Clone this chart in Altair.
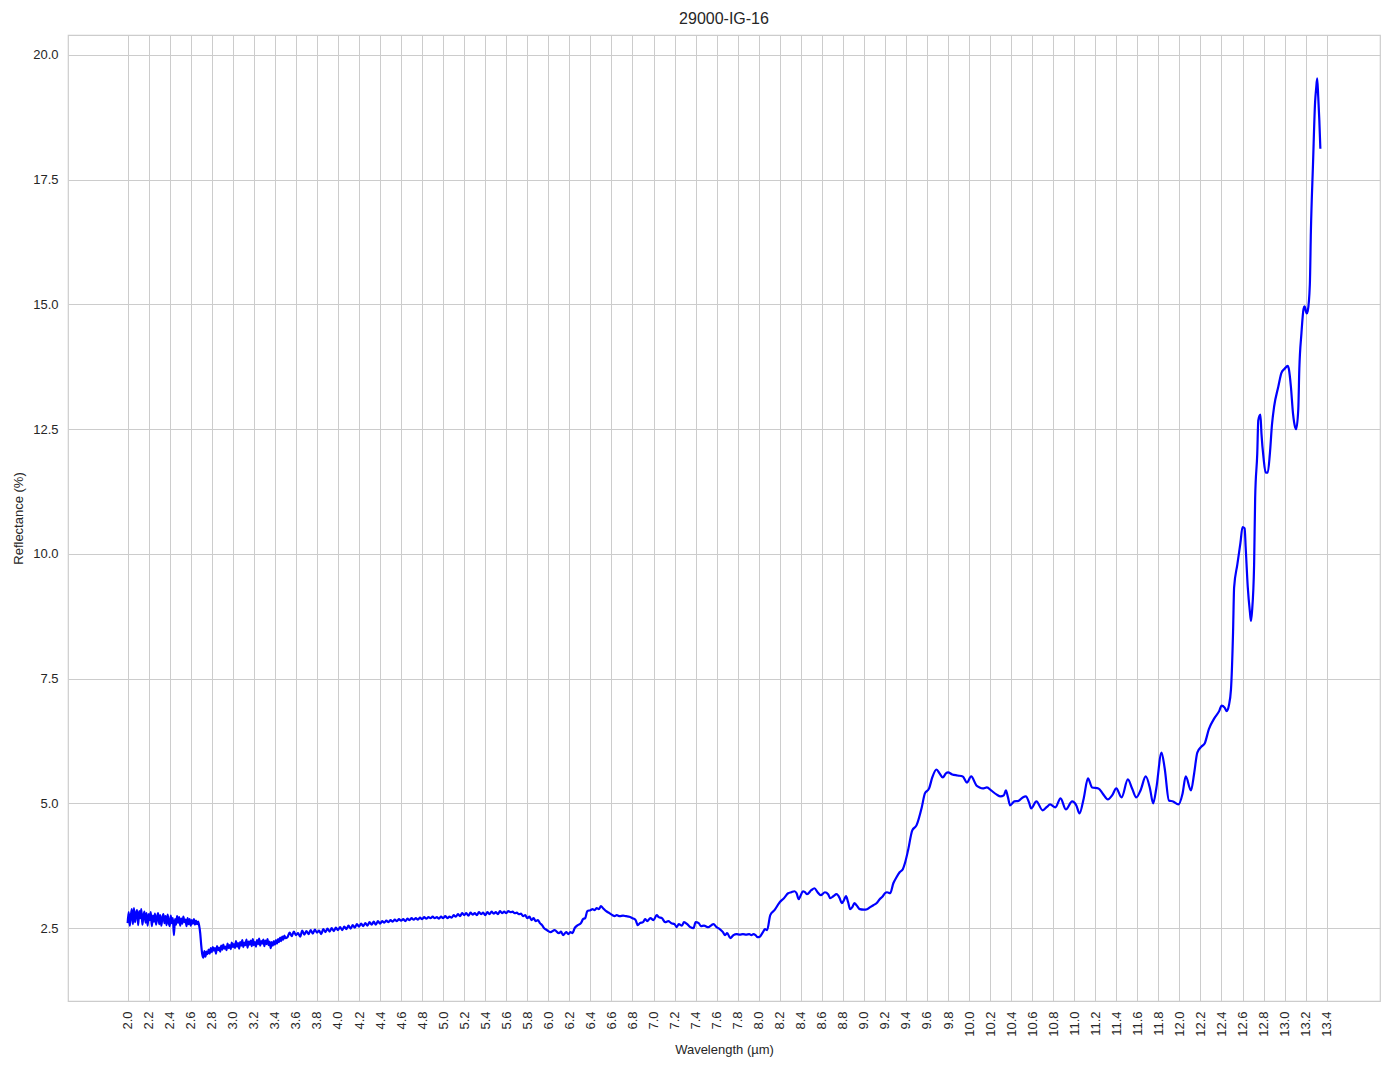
import altair as alt
import pandas as pd

TITLE = "29000-IG-16"
X_TITLE = "Wavelength (µm)"
Y_TITLE = "Reflectance (%)"

# 2.00 - 2.79 um, sampled every 0.01 um (noisy detector region)
noisy_start = 2.00
noisy_step = 0.01
noisy_vals = [
    2.60, 2.82, 2.55, 2.74, 2.88, 2.58, 2.90, 2.62, 2.79, 2.86,
    2.56, 2.84, 2.70, 2.88, 2.57, 2.74, 2.83, 2.61, 2.80, 2.55,
    2.78, 2.66, 2.82, 2.54, 2.75, 2.63, 2.79, 2.57, 2.72, 2.80,
    2.58, 2.76, 2.55, 2.70, 2.78, 2.60, 2.74, 2.56, 2.77, 2.62,
    2.54, 2.75, 2.60, 2.70, 2.36, 2.68, 2.57, 2.74, 2.61, 2.72,
    2.55, 2.69, 2.59, 2.73, 2.62, 2.67, 2.54, 2.70, 2.58, 2.68,
    2.55, 2.66, 2.59, 2.68, 2.57, 2.65, 2.58, 2.63, 2.55, 2.40,
    2.15, 1.97, 1.91, 2.04, 1.93, 2.03, 1.98, 2.07, 1.99, 2.10,
]

# 2.80 - 3.50 um, every 0.01 um
band_start = 2.80
band_step = 0.01
band_vals = [
    2.02, 2.12, 2.05, 2.10, 1.99, 2.14, 2.06, 2.11, 2.03, 2.15,
    2.07, 2.17, 2.09, 2.13, 2.06, 2.19, 2.10, 2.16, 2.08, 2.21,
    2.12, 2.18, 2.10, 2.24, 2.13, 2.20, 2.09, 2.22, 2.15, 2.26,
    2.12, 2.21, 2.16, 2.27, 2.11, 2.23, 2.17, 2.25, 2.14, 2.28,
    2.16, 2.22, 2.13, 2.26, 2.18, 2.29, 2.15, 2.24, 2.19, 2.27,
    2.14, 2.25, 2.18, 2.28, 2.16, 2.23, 2.10, 2.22, 2.15, 2.24,
    2.17, 2.26, 2.19, 2.28, 2.22, 2.31, 2.24, 2.33, 2.27, 2.35,
    2.30,
]

# 3.52 - 6.00 um, every 0.02 um
plateau_start = 3.52
plateau_step = 0.02
plateau_vals = [
    2.32, 2.41, 2.34, 2.43, 2.36, 2.40, 2.33, 2.45, 2.37, 2.44,
    2.38, 2.46, 2.39, 2.47, 2.41, 2.45, 2.38, 2.48, 2.42, 2.49,
    2.43, 2.50, 2.44, 2.51, 2.46,
    2.52, 2.46, 2.53, 2.48, 2.55, 2.49, 2.56, 2.51, 2.58, 2.53,
    2.59, 2.54, 2.60, 2.55, 2.62, 2.57, 2.63, 2.57, 2.64, 2.59,
    2.64, 2.61, 2.65, 2.62, 2.66, 2.63, 2.67, 2.64, 2.68, 2.65,
    2.68, 2.64, 2.69, 2.66, 2.70, 2.67, 2.70, 2.67, 2.71, 2.68,
    2.72, 2.69, 2.72, 2.70, 2.73, 2.70, 2.72, 2.69, 2.73, 2.70,
    2.74, 2.70, 2.73, 2.71, 2.76, 2.73, 2.78, 2.74, 2.80, 2.76,
    2.80, 2.75, 2.81, 2.77, 2.80, 2.76, 2.82, 2.78, 2.81, 2.76,
    2.82, 2.78, 2.83, 2.79, 2.82, 2.78, 2.84, 2.80, 2.83, 2.80,
    2.84, 2.82, 2.83, 2.80, 2.81, 2.78, 2.79, 2.74, 2.76, 2.70,
    2.73, 2.66, 2.70, 2.64, 2.66, 2.60, 2.56, 2.50, 2.47, 2.44,
]

# 6.02 - 9.40 um
mid_x = [
    6.02, 6.06, 6.10, 6.12, 6.14, 6.17, 6.19, 6.21, 6.23, 6.25,
    6.28, 6.31, 6.33, 6.35, 6.37, 6.40, 6.42, 6.44, 6.46, 6.48,
    6.50, 6.52, 6.55, 6.58, 6.61, 6.63, 6.65, 6.68, 6.71, 6.74,
    6.77, 6.80, 6.83, 6.85, 6.87, 6.90, 6.92, 6.94, 6.97, 7.00,
    7.03, 7.05, 7.08, 7.11, 7.14, 7.17, 7.20, 7.22, 7.24, 7.27,
    7.29, 7.32, 7.35, 7.38, 7.40, 7.43, 7.45, 7.48, 7.52, 7.55,
    7.57, 7.60, 7.63, 7.66, 7.68, 7.70, 7.73, 7.76, 7.79, 7.82,
    7.85, 7.88, 7.91, 7.93, 7.95, 7.97, 7.99, 8.01, 8.04, 8.06,
    8.08, 8.11, 8.15, 8.20, 8.24, 8.28, 8.31, 8.34, 8.36, 8.38,
    8.40, 8.42, 8.44, 8.46, 8.50, 8.53, 8.56, 8.59, 8.63, 8.66,
    8.68, 8.71, 8.74, 8.77, 8.79, 8.81, 8.83, 8.85, 8.87, 8.89,
    8.91, 8.93, 8.96, 9.00, 9.03, 9.06, 9.09, 9.12, 9.15, 9.18,
    9.20, 9.22, 9.25, 9.28, 9.31, 9.34, 9.37, 9.39,
]
mid_y = [
    2.42, 2.46, 2.40, 2.43, 2.36, 2.42, 2.38, 2.42, 2.40, 2.50,
    2.56, 2.60, 2.68, 2.70, 2.84, 2.86, 2.88, 2.86, 2.90, 2.88,
    2.94, 2.90, 2.84, 2.80, 2.76, 2.74, 2.76, 2.74, 2.75, 2.74,
    2.73, 2.70, 2.66, 2.56, 2.60, 2.62, 2.68, 2.64, 2.70, 2.66,
    2.76, 2.72, 2.70, 2.62, 2.64, 2.60, 2.58, 2.52, 2.58, 2.55,
    2.62, 2.58, 2.52, 2.50, 2.62, 2.60, 2.54, 2.55, 2.52, 2.56,
    2.58, 2.52, 2.48, 2.42, 2.36, 2.40, 2.30, 2.36, 2.38, 2.37,
    2.38, 2.37, 2.38, 2.36, 2.38, 2.36, 2.32, 2.33, 2.42, 2.48,
    2.46, 2.76, 2.86, 3.02, 3.10, 3.20, 3.22, 3.24, 3.20, 3.08,
    3.16, 3.24, 3.22, 3.18, 3.26, 3.30, 3.22, 3.16, 3.22, 3.18,
    3.10, 3.14, 3.18, 3.10, 3.00, 3.06, 3.14, 3.02, 2.88, 2.92,
    3.00, 2.96, 2.88, 2.87, 2.88, 2.92, 2.96, 3.00, 3.08, 3.14,
    3.20, 3.22, 3.20, 3.40, 3.52, 3.62, 3.68, 3.80,
]

# 9.42 - 13.34 um
rise_x = [
    9.42, 9.46, 9.50, 9.55, 9.58, 9.62, 9.65, 9.69, 9.72, 9.75,
    9.78, 9.80, 9.84, 9.89, 9.94, 9.98, 10.02, 10.07, 10.10, 10.13,
    10.17, 10.21, 10.26, 10.30, 10.33, 10.35, 10.37, 10.39, 10.43, 10.47,
    10.51, 10.54, 10.57, 10.59, 10.64, 10.70, 10.74, 10.77, 10.82, 10.87,
    10.92, 10.98, 11.02, 11.05, 11.09, 11.13, 11.17, 11.23, 11.27, 11.32,
    11.36, 11.40, 11.45, 11.51, 11.55, 11.59, 11.63, 11.68, 11.72, 11.75,
    11.78, 11.83, 11.86, 11.90, 11.94, 11.99, 12.03, 12.06, 12.11, 12.14,
    12.17, 12.21, 12.24, 12.28, 12.33, 12.38, 12.40, 12.43, 12.45, 12.47,
    12.49, 12.51, 12.52, 12.55, 12.58, 12.60, 12.62, 12.63, 12.65, 12.67,
    12.68, 12.69, 12.71, 12.72, 12.74, 12.75, 12.77, 12.78, 12.80, 12.82,
    12.84, 12.86, 12.88, 12.90, 12.94, 12.97, 13.00, 13.03, 13.04, 13.06,
    13.08, 13.10, 13.11, 13.13, 13.14, 13.16, 13.18, 13.19, 13.21, 13.22,
    13.24, 13.25, 13.27, 13.29, 13.30, 13.31, 13.32, 13.33, 13.34,
]
rise_y = [
    4.06, 4.46, 4.56, 4.92, 5.20, 5.30, 5.52, 5.68, 5.60, 5.52,
    5.60, 5.62, 5.58, 5.56, 5.54, 5.42, 5.54, 5.36, 5.32, 5.30,
    5.32, 5.26, 5.18, 5.14, 5.16, 5.26, 5.12, 4.96, 5.04, 5.05,
    5.12, 5.14, 5.02, 4.90, 5.04, 4.86, 4.93, 4.98, 4.92, 5.10,
    4.88, 5.04, 4.96, 4.80, 5.10, 5.50, 5.32, 5.30, 5.20, 5.08,
    5.16, 5.30, 5.12, 5.48, 5.30, 5.12, 5.26, 5.54, 5.30, 5.00,
    5.30, 6.02, 5.70, 5.06, 5.04, 4.98, 5.20, 5.54, 5.26, 5.60,
    6.02, 6.14, 6.20, 6.49, 6.70, 6.86, 6.96, 6.92, 6.85, 6.96,
    7.28, 8.44, 9.33, 9.78, 10.22, 10.54, 10.51, 10.13, 9.33, 8.84,
    8.66, 8.84, 9.78, 11.12, 12.01, 12.68, 12.79, 12.41, 11.92, 11.63,
    11.63, 12.01, 12.59, 12.95, 13.35, 13.63, 13.71, 13.77, 13.71, 13.35,
    12.81, 12.54, 12.50, 12.90, 13.71, 14.42, 14.91, 14.96, 14.82, 14.87,
    15.40, 16.47, 17.81, 19.06, 19.33, 19.53, 19.15, 18.70, 18.12,
]

x_ticks = [2.0, 2.2, 2.4, 2.6, 2.8, 3.0, 3.2, 3.4, 3.6, 3.8, 4.0, 4.2, 4.4,
           4.6, 4.8, 5.0, 5.2, 5.4, 5.6, 5.8, 6.0, 6.2, 6.4, 6.6, 6.8, 7.0,
           7.2, 7.4, 7.6, 7.8, 8.0, 8.2, 8.4, 8.6, 8.8, 9.0, 9.2, 9.4, 9.6,
           9.8, 10.0, 10.2, 10.4, 10.6, 10.8, 11.0, 11.2, 11.4, 11.6, 11.8,
           12.0, 12.2, 12.4, 12.6, 12.8, 13.0, 13.2, 13.4]
y_ticks = [2.5, 5.0, 7.5, 10.0, 12.5, 15.0, 17.5, 20.0]


def grid(start, step, vals):
    return [round(start + step * i, 3) for i in range(len(vals))]


wl = (grid(noisy_start, noisy_step, noisy_vals)
      + grid(band_start, band_step, band_vals)
      + grid(plateau_start, plateau_step, plateau_vals)
      + mid_x + rise_x)
refl = noisy_vals + band_vals + plateau_vals + mid_y + rise_y
df = pd.DataFrame({"wl": wl, "r": refl, "idx": list(range(len(wl)))})

FONT = "Liberation Sans"
TXT = "#262626"

chart = alt.Chart(df).mark_line(
    color="#0000ff", strokeWidth=2.2, interpolate="monotone"
).encode(
    x=alt.X("wl:Q",
            scale=alt.Scale(domain=[1.433, 13.907], nice=False, zero=False),
            axis=alt.Axis(values=x_ticks, format=".1f", labelAngle=270,
                          title=X_TITLE, labelPadding=10, titlePadding=7,
                          labelOverlap=False)),
    y=alt.Y("r:Q",
            scale=alt.Scale(domain=[1.04, 20.4], nice=False, zero=False),
            axis=alt.Axis(values=y_ticks, format=".1f", title=Y_TITLE,
                          labelPadding=10, titlePadding=7)),
    order=alt.Order("idx:Q"),
).properties(
    width=1312,
    height=966,
    title=alt.TitleParams(TITLE, fontSize=16, font=FONT, fontWeight="normal",
                          color=TXT, anchor="middle", offset=8),
    autosize=alt.AutoSizeParams(type="none"),
    padding={"left": 60, "top": 27, "right": 6, "bottom": 64},
).configure_view(
    stroke="#cccccc", strokeWidth=1.2,
).configure_axis(
    grid=True, gridColor="#cccccc", gridWidth=1, domain=False, ticks=False,
    labelFont=FONT, labelFontSize=13, labelColor=TXT,
    titleFont=FONT, titleFontSize=13, titleFontWeight="normal", titleColor=TXT,
)

chart.save("out.html", embed_options={"renderer": "svg", "actions": False})
